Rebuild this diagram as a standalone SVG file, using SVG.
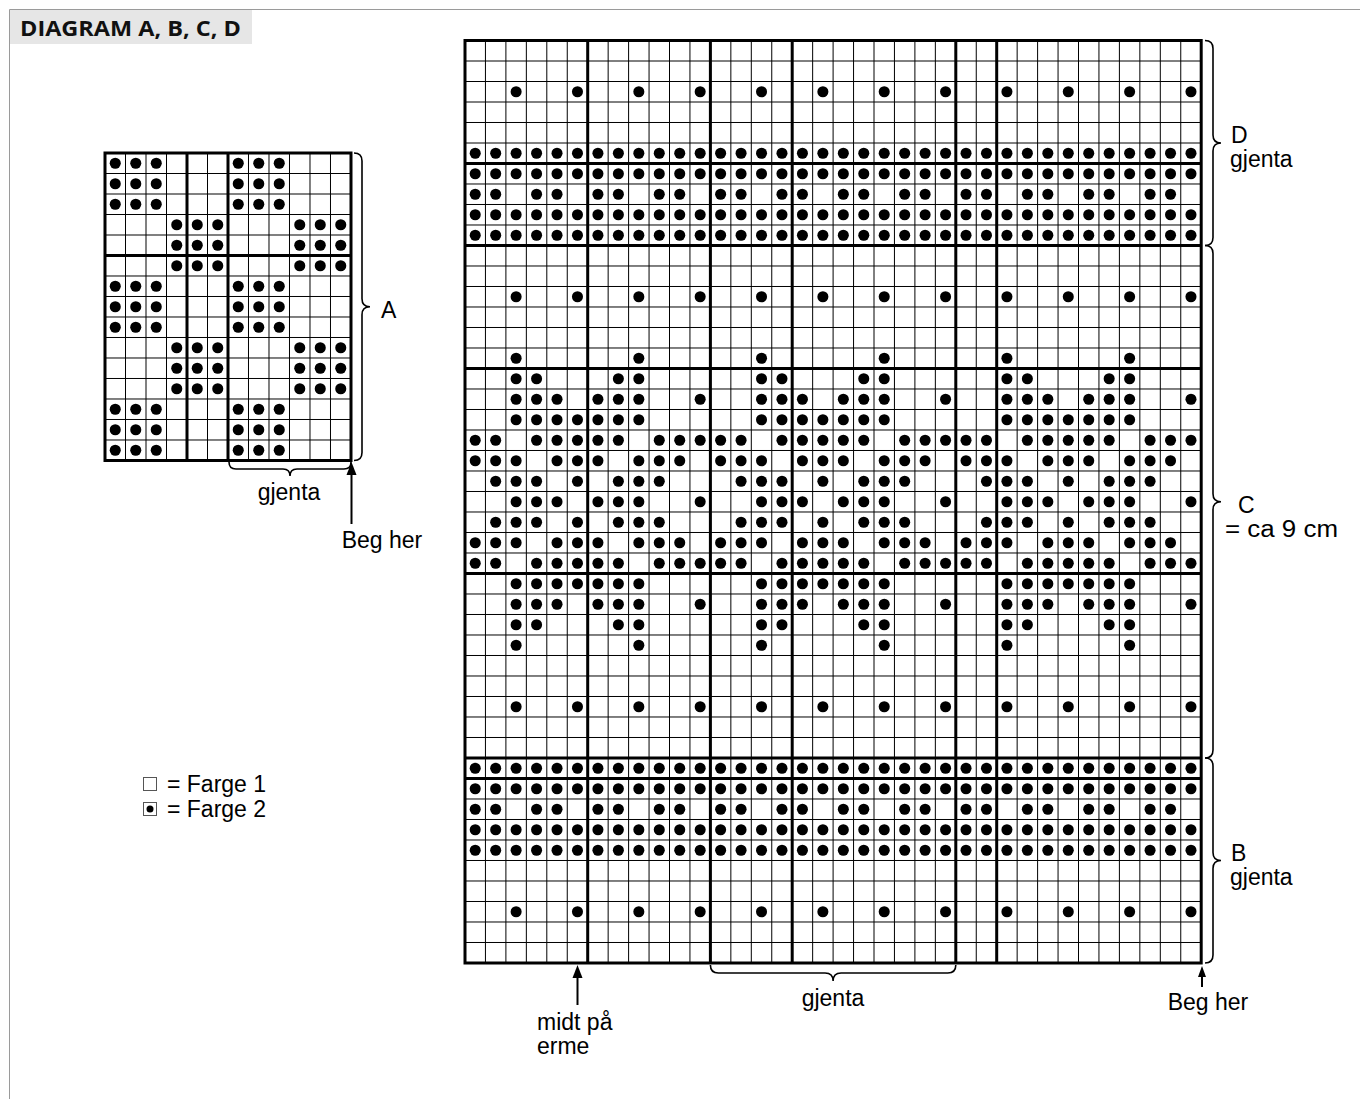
<svg xmlns="http://www.w3.org/2000/svg" xmlns:xlink="http://www.w3.org/1999/xlink" width="1360" height="1099" viewBox="0 0 1360 1099">
<style>
.t{font-family:"Liberation Sans",Arial,sans-serif;font-size:23px;fill:#000}
.h{font-family:"Open Sans","Liberation Sans",sans-serif;font-weight:700;font-size:21px;fill:#111}
.thin{stroke:#000;stroke-width:1;fill:none;vector-effect:non-scaling-stroke}
.thick{stroke:#000;stroke-width:3;fill:none;vector-effect:non-scaling-stroke;stroke-linecap:square}
.br{stroke:#000;stroke-width:1.6;fill:none}
.ar{stroke:#000;stroke-width:2;fill:none}
</style>
<defs>
<g id="f12"><circle cx=".5" cy=".5" r=".27"/><circle cx="1.5" cy=".5" r=".27"/><circle cx="2.5" cy=".5" r=".27"/><circle cx="3.5" cy=".5" r=".27"/><circle cx="4.5" cy=".5" r=".27"/><circle cx="5.5" cy=".5" r=".27"/><circle cx="6.5" cy=".5" r=".27"/><circle cx="7.5" cy=".5" r=".27"/><circle cx="8.5" cy=".5" r=".27"/><circle cx="9.5" cy=".5" r=".27"/><circle cx="10.5" cy=".5" r=".27"/><circle cx="11.5" cy=".5" r=".27"/></g>
<g id="g12"><circle cx=".5" cy=".5" r=".27"/><circle cx="1.5" cy=".5" r=".27"/><circle cx="3.5" cy=".5" r=".27"/><circle cx="4.5" cy=".5" r=".27"/><circle cx="6.5" cy=".5" r=".27"/><circle cx="7.5" cy=".5" r=".27"/><circle cx="9.5" cy=".5" r=".27"/><circle cx="10.5" cy=".5" r=".27"/></g>
<g id="e12"><circle cx="2.5" cy=".5" r=".27"/><circle cx="5.5" cy=".5" r=".27"/><circle cx="8.5" cy=".5" r=".27"/><circle cx="11.5" cy=".5" r=".27"/></g>
<g id="blk">
<use href="#e12" y="2"/><use href="#f12" y="5"/><use href="#f12" y="6"/><use href="#g12" y="7"/><use href="#f12" y="8"/><use href="#f12" y="9"/>
<use href="#e12" y="12"/>
<circle cx="2.5" cy="15.5" r=".27"/><circle cx="8.5" cy="15.5" r=".27"/>
<circle cx="2.5" cy="16.5" r=".27"/><circle cx="3.5" cy="16.5" r=".27"/><circle cx="7.5" cy="16.5" r=".27"/><circle cx="8.5" cy="16.5" r=".27"/>
<circle cx="2.5" cy="17.5" r=".27"/><circle cx="3.5" cy="17.5" r=".27"/><circle cx="4.5" cy="17.5" r=".27"/><circle cx="6.5" cy="17.5" r=".27"/><circle cx="7.5" cy="17.5" r=".27"/><circle cx="8.5" cy="17.5" r=".27"/><circle cx="11.5" cy="17.5" r=".27"/>
<circle cx="2.5" cy="18.5" r=".27"/><circle cx="3.5" cy="18.5" r=".27"/><circle cx="4.5" cy="18.5" r=".27"/><circle cx="5.5" cy="18.5" r=".27"/><circle cx="6.5" cy="18.5" r=".27"/><circle cx="7.5" cy="18.5" r=".27"/><circle cx="8.5" cy="18.5" r=".27"/>
<circle cx=".5" cy="19.5" r=".27"/><circle cx="1.5" cy="19.5" r=".27"/><circle cx="3.5" cy="19.5" r=".27"/><circle cx="4.5" cy="19.5" r=".27"/><circle cx="5.5" cy="19.5" r=".27"/><circle cx="6.5" cy="19.5" r=".27"/><circle cx="7.5" cy="19.5" r=".27"/><circle cx="9.5" cy="19.5" r=".27"/><circle cx="10.5" cy="19.5" r=".27"/><circle cx="11.5" cy="19.5" r=".27"/>
<circle cx=".5" cy="20.5" r=".27"/><circle cx="1.5" cy="20.5" r=".27"/><circle cx="2.5" cy="20.5" r=".27"/><circle cx="4.5" cy="20.5" r=".27"/><circle cx="5.5" cy="20.5" r=".27"/><circle cx="6.5" cy="20.5" r=".27"/><circle cx="8.5" cy="20.5" r=".27"/><circle cx="9.5" cy="20.5" r=".27"/><circle cx="10.5" cy="20.5" r=".27"/>
<circle cx="1.5" cy="21.5" r=".27"/><circle cx="2.5" cy="21.5" r=".27"/><circle cx="3.5" cy="21.5" r=".27"/><circle cx="5.5" cy="21.5" r=".27"/><circle cx="7.5" cy="21.5" r=".27"/><circle cx="8.5" cy="21.5" r=".27"/><circle cx="9.5" cy="21.5" r=".27"/>
<circle cx="2.5" cy="22.5" r=".27"/><circle cx="3.5" cy="22.5" r=".27"/><circle cx="4.5" cy="22.5" r=".27"/><circle cx="6.5" cy="22.5" r=".27"/><circle cx="7.5" cy="22.5" r=".27"/><circle cx="8.5" cy="22.5" r=".27"/><circle cx="11.5" cy="22.5" r=".27"/>
<circle cx="1.5" cy="23.5" r=".27"/><circle cx="2.5" cy="23.5" r=".27"/><circle cx="3.5" cy="23.5" r=".27"/><circle cx="5.5" cy="23.5" r=".27"/><circle cx="7.5" cy="23.5" r=".27"/><circle cx="8.5" cy="23.5" r=".27"/><circle cx="9.5" cy="23.5" r=".27"/>
<circle cx=".5" cy="24.5" r=".27"/><circle cx="1.5" cy="24.5" r=".27"/><circle cx="2.5" cy="24.5" r=".27"/><circle cx="4.5" cy="24.5" r=".27"/><circle cx="5.5" cy="24.5" r=".27"/><circle cx="6.5" cy="24.5" r=".27"/><circle cx="8.5" cy="24.5" r=".27"/><circle cx="9.5" cy="24.5" r=".27"/><circle cx="10.5" cy="24.5" r=".27"/>
<circle cx=".5" cy="25.5" r=".27"/><circle cx="1.5" cy="25.5" r=".27"/><circle cx="3.5" cy="25.5" r=".27"/><circle cx="4.5" cy="25.5" r=".27"/><circle cx="5.5" cy="25.5" r=".27"/><circle cx="6.5" cy="25.5" r=".27"/><circle cx="7.5" cy="25.5" r=".27"/><circle cx="9.5" cy="25.5" r=".27"/><circle cx="10.5" cy="25.5" r=".27"/><circle cx="11.5" cy="25.5" r=".27"/>
<circle cx="2.5" cy="26.5" r=".27"/><circle cx="3.5" cy="26.5" r=".27"/><circle cx="4.5" cy="26.5" r=".27"/><circle cx="5.5" cy="26.5" r=".27"/><circle cx="6.5" cy="26.5" r=".27"/><circle cx="7.5" cy="26.5" r=".27"/><circle cx="8.5" cy="26.5" r=".27"/>
<circle cx="2.5" cy="27.5" r=".27"/><circle cx="3.5" cy="27.5" r=".27"/><circle cx="4.5" cy="27.5" r=".27"/><circle cx="6.5" cy="27.5" r=".27"/><circle cx="7.5" cy="27.5" r=".27"/><circle cx="8.5" cy="27.5" r=".27"/><circle cx="11.5" cy="27.5" r=".27"/>
<circle cx="2.5" cy="28.5" r=".27"/><circle cx="3.5" cy="28.5" r=".27"/><circle cx="7.5" cy="28.5" r=".27"/><circle cx="8.5" cy="28.5" r=".27"/>
<circle cx="2.5" cy="29.5" r=".27"/><circle cx="8.5" cy="29.5" r=".27"/>
<use href="#e12" y="32"/>
<use href="#f12" y="35"/><use href="#f12" y="36"/><use href="#g12" y="37"/><use href="#f12" y="38"/><use href="#f12" y="39"/><use href="#e12" y="42"/>
</g>
<g id="a9"><circle cx=".5" cy=".5" r=".27"/><circle cx="1.5" cy=".5" r=".27"/><circle cx="2.5" cy=".5" r=".27"/><circle cx=".5" cy="1.5" r=".27"/><circle cx="1.5" cy="1.5" r=".27"/><circle cx="2.5" cy="1.5" r=".27"/><circle cx=".5" cy="2.5" r=".27"/><circle cx="1.5" cy="2.5" r=".27"/><circle cx="2.5" cy="2.5" r=".27"/></g>
</defs>
<rect width="1360" height="1099" fill="#fff"/>
<path d="M9.5 1099V9.5H1360" stroke="#9a9a9a" stroke-width="1" fill="none"/>
<g id="header"><rect x="10" y="10" width="242" height="34" fill="#e6e6e6"/><text class="h" x="20" y="36" textLength="221" lengthAdjust="spacingAndGlyphs">DIAGRAM A, B, C, D</text></g>

<g id="chart-a" transform="translate(105 153) scale(20.5)">
<use href="#a9"/><use href="#a9" x="6"/><use href="#a9" x="3" y="3"/><use href="#a9" x="9" y="3"/><use href="#a9" y="6"/><use href="#a9" x="6" y="6"/><use href="#a9" x="3" y="9"/><use href="#a9" x="9" y="9"/><use href="#a9" y="12"/><use href="#a9" x="6" y="12"/>
<path class="thin" d="M1 0V15M2 0V15M3 0V15M4 0V15M5 0V15M6 0V15M7 0V15M8 0V15M9 0V15M10 0V15M11 0V15M0 1H12M0 2H12M0 3H12M0 4H12M0 5H12M0 6H12M0 7H12M0 8H12M0 9H12M0 10H12M0 11H12M0 12H12M0 13H12M0 14H12"/>
<path class="thick" d="M0 0V15M4 0V15M6 0V15M12 0V15M0 0H12M0 5H12M0 15H12"/>
</g>

<g id="chart-bcd" transform="translate(465 40.5) scale(20.45 20.5)">
<use href="#blk"/><use href="#blk" x="12"/><use href="#blk" x="24"/>
<path class="thin" d="M1 0V45M2 0V45M3 0V45M4 0V45M5 0V45M6 0V45M7 0V45M8 0V45M9 0V45M10 0V45M11 0V45M12 0V45M13 0V45M14 0V45M15 0V45M16 0V45M17 0V45M18 0V45M19 0V45M20 0V45M21 0V45M22 0V45M23 0V45M24 0V45M25 0V45M26 0V45M27 0V45M28 0V45M29 0V45M30 0V45M31 0V45M32 0V45M33 0V45M34 0V45M35 0V45M0 1H36M0 2H36M0 3H36M0 4H36M0 5H36M0 6H36M0 7H36M0 8H36M0 9H36M0 10H36M0 11H36M0 12H36M0 13H36M0 14H36M0 15H36M0 16H36M0 17H36M0 18H36M0 19H36M0 20H36M0 21H36M0 22H36M0 23H36M0 24H36M0 25H36M0 26H36M0 27H36M0 28H36M0 29H36M0 30H36M0 31H36M0 32H36M0 33H36M0 34H36M0 35H36M0 36H36M0 37H36M0 38H36M0 39H36M0 40H36M0 41H36M0 42H36M0 43H36M0 44H36"/>
<path class="thick" d="M0 0V45M6 0V45M12 0V45M16 0V45M24 0V45M26 0V45M36 0V45M0 0H36M0 6H36M0 10H36M0 16H36M0 26H36M0 35H36M0 36H36M0 45H36"/>
</g>

<g id="connectors">
<path class="br" d="M354 153Q362 153 362 161V298.75Q362 306.75 370 306.75Q362 306.75 362 314.75V452.5Q362 460.5 354 460.5"/>
<path class="br" d="M229 462Q229 469 236 469H283Q290 469 290 476Q290 469 297 469H344Q351 469 351 462"/>
<path class="ar" d="M351.5 524V472"/><polygon points="351.5,462 346.5,475 356.5,475"/>
<path class="br" d="M1205 40.5Q1213 40.5 1213 48.5V135Q1213 143 1221 143Q1213 143 1213 151V237.5Q1213 245.5 1205 245.5"/>
<path class="br" d="M1205 245.5Q1213 245.5 1213 253.5V493.75Q1213 501.75 1221 501.75Q1213 501.75 1213 509.75V750Q1213 758 1205 758"/>
<path class="br" d="M1205 758Q1213 758 1213 766V852.5Q1213 860.5 1221 860.5Q1213 860.5 1213 868.5V955Q1213 963 1205 963"/>
<path class="br" d="M710.4 965Q710.4 973 718.4 973H825.1Q833.1 973 833.1 981Q833.1 973 841.1 973H947.8Q955.8 973 955.8 965"/>
<path class="ar" d="M577.5 1005V975"/><polygon points="577.5,965 572.5,978 582.5,978"/>
<path class="ar" d="M1202 987V975"/><polygon points="1202,966 1198,977 1206,977"/>
</g>

<g id="labels">
<text class="t" x="381" y="318">A</text>
<text class="t" x="289" y="500" text-anchor="middle">gjenta</text>
<text class="t" x="382" y="548" text-anchor="middle">Beg her</text>
<text class="t" x="1231" y="143">D</text>
<text class="t" x="1230" y="167">gjenta</text>
<text class="t" x="1238" y="513">C</text>
<text class="t" x="1225" y="537" textLength="113" lengthAdjust="spacingAndGlyphs">= ca 9 cm</text>
<text class="t" x="1231" y="861">B</text>
<text class="t" x="1230" y="885">gjenta</text>
<text class="t" x="833" y="1006" text-anchor="middle">gjenta</text>
<text class="t" x="1208" y="1010" text-anchor="middle">Beg her</text>
<text class="t" x="537" y="1030">midt på</text>
<text class="t" x="537" y="1054">erme</text>
</g>

<g id="legend">
<rect x="143.5" y="777.5" width="13" height="13" fill="#fff" stroke="#555"/>
<text class="t" x="167" y="792">= Farge 1</text>
<rect x="143.5" y="802.5" width="13" height="13" fill="#fff" stroke="#555"/>
<circle cx="150" cy="809" r="3.5"/>
<text class="t" x="167" y="817">= Farge 2</text>
</g>
</svg>
